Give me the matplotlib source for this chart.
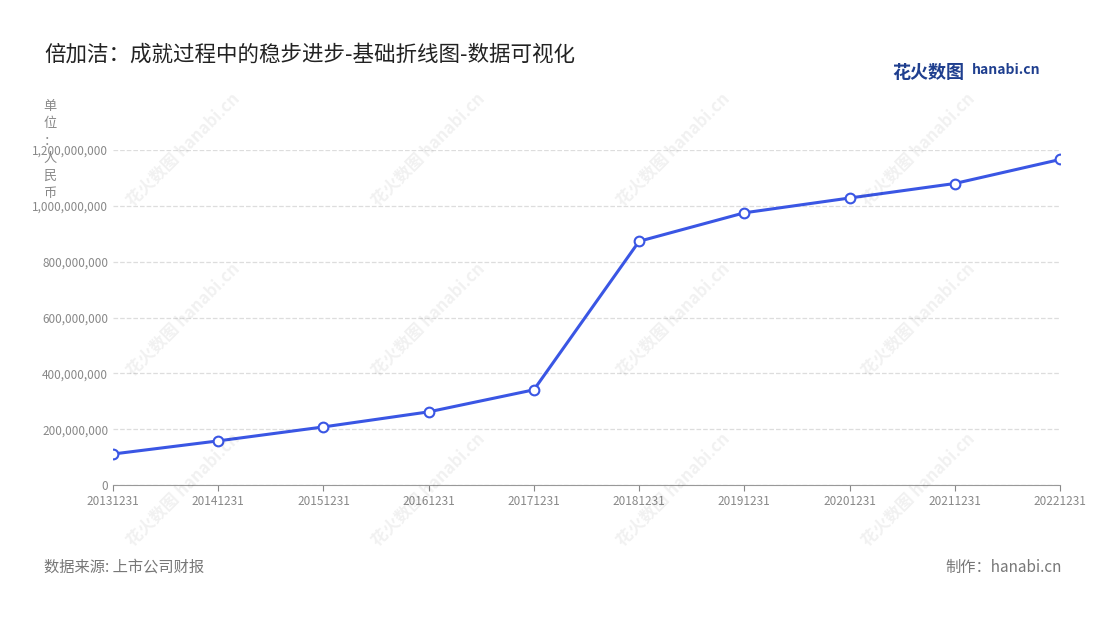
import matplotlib.pyplot as plt
from matplotlib.ticker import FuncFormatter

plt.rcParams['font.family'] = ['Noto Sans CJK SC', 'DejaVu Sans']

dates = ['20131231', '20141231', '20151231', '20161231', '20171231',
         '20181231', '20191231', '20201231', '20211231', '20221231']
revenue = [111e6, 158e6, 208e6, 262e6, 341e6, 873e6, 975e6, 1028e6, 1080e6, 1166e6]

fig = plt.figure(figsize=(11, 6.2), dpi=100)
ax = fig.add_axes([113/1100, 1-485/620, (1060-113)/1100, (485-150)/620])

x = range(len(dates))
ax.plot(x, revenue, color='#3a56e4', lw=2.2, marker='o', ms=7,
        mfc='white', mec='#3a56e4', mew=1.5, zorder=3)

ax.set_xlim(0, len(dates) - 1)
ax.set_ylim(0, 1.2e9)
ax.set_yticks([i * 2e8 for i in range(7)])
ax.yaxis.set_major_formatter(FuncFormatter(lambda v, p: f'{int(v):,}'))
ax.set_xticks(list(x))
ax.set_xticklabels(dates)
ax.tick_params(axis='both', labelsize=8.5, colors='#888888', length=4)
ax.tick_params(axis='y', length=0)
ax.grid(axis='y', ls='--', color='#dddddd', lw=0.9)
for s in ['top', 'right', 'left']:
    ax.spines[s].set_visible(False)
ax.spines['bottom'].set_color('#999999')

fig.text(44/1100, 1-55/620, '倍加洁：成就过程中的稳步进步-基础折线图-数据可视化',
         fontsize=15.5, color='#222222', va='center')
fig.text(50/1100, 1-150/620, '单\n位\n：\n人\n民\n币', fontsize=9.5, color='#888888',
         va='center', ha='center', linespacing=1.45)
fig.text(44/1100, 1-567/620, '数据来源: 上市公司财报', fontsize=11, color='#777777', va='center')
fig.text(1062/1100, 1-567/620, '制作：hanabi.cn', fontsize=11, color='#777777',
         va='center', ha='right')
fig.text(892/1100, 1-72/620, '花火数图', fontsize=13, color='#1f3f8f', weight='bold', va='center')
fig.text(972/1100, 1-70/620, 'hanabi.cn', fontsize=10, color='#1f3f8f', weight='bold', va='center')

for wx in [150, 395, 640, 885]:
    for wy in [150, 320, 490]:
        fig.text(wx/1100 + 0.03, 1-wy/620, '花火数图 hanabi.cn', fontsize=12, color='#000000',
                 alpha=0.06, rotation=45, ha='center', va='center', weight='bold')

fig.savefig('out.png', dpi=100, facecolor='white')
